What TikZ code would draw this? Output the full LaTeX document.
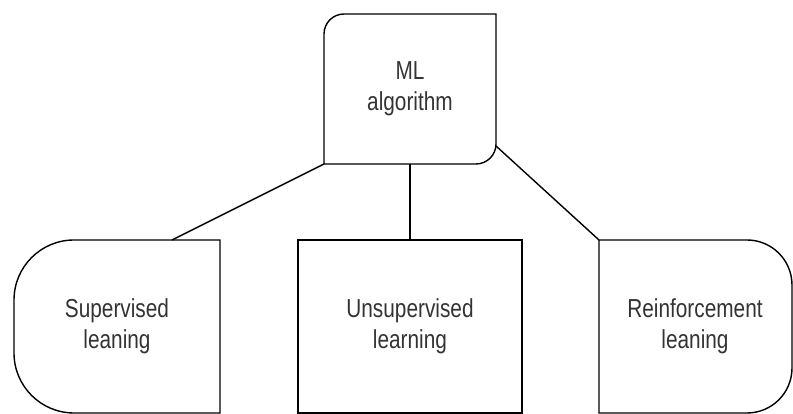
\documentclass[tikz,border=0pt]{standalone}
\usepackage{fontspec}
\setmainfont{Liberation Sans}[FakeStretch=0.8]
\usepackage{tikz}
\definecolor{txtgray}{rgb}{0.2,0.2,0.2}

\begin{document}
\begin{tikzpicture}[x=1pt,y=1pt,line width=1.4pt,
    lbl/.style={align=center,text=txtgray,font=\fontsize{26}{31}\selectfont}]
	\useasboundingbox (0,0) rectangle (793,414);
	% top box
	\draw (324,250) -- (324,380) arc (180:90:20) -- (496,400) -- (496,270) arc (0:-90:20) -- cycle;
	\node[lbl] (ml) at (410,325) {ML\\algorithm};
	\coordinate (mlsw) at (324,250);
	\coordinate (mlbot) at (410,250);
	\coordinate (mlse) at (496,268);
	% bottom boxes
	\draw (220,174) -- (74,174) arc (90:180:60) -- (14,61) arc (180:270:60) -- (220,1) -- cycle;
	\node[lbl] (sup) at (117,88) {Supervised\\leaning};
	\coordinate (suptop) at (172,174);
	\draw (298,1) rectangle (522,174);
	\node[lbl] (unsup) at (410,88) {Unsupervised\\learning};
	\coordinate (unsuptop) at (410,174);
	\draw (599,174) -- (747,174) arc (90:0:45) -- (792,46) arc (0:-90:45) -- (599,1) -- cycle;
	\node[lbl] (reinf) at (695,88) {Reinforcement\\leaning};
	\coordinate (reinftop) at (599,174);
	% connectors
	\draw (mlsw) -- (suptop);
	\draw (mlbot) -- (unsuptop);
	\draw (mlse) -- (reinftop);
\end{tikzpicture}
\end{document}
